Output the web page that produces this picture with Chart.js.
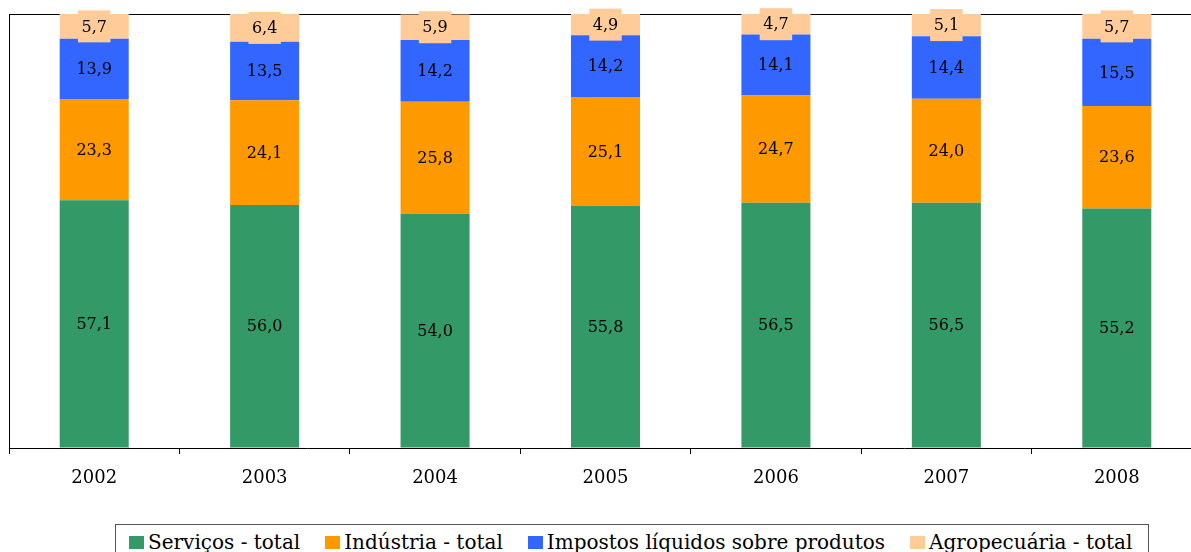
<!DOCTYPE html>
<html>
<head>
<meta charset="utf-8">
<script src="https://cdn.jsdelivr.net/npm/chart.js@4"></script>
<style>
  html, body { margin: 0; padding: 0; background: #fff; }
  #wrap { position: relative; width: 1191px; height: 552px; overflow: hidden; }
  #myChart { position: absolute; left: 0; top: 0; }
  #legend {
    position: absolute; left: 115px; top: 524px; width: 1034px; height: 40px;
    border: 1px solid #555; display: flex; align-items: flex-start;
    padding-left: 13px; box-sizing: border-box; gap: 25px;
    font-family: "DejaVu Serif", serif; font-size: 20px; color: #000;
  }
  .item { display: flex; align-items: center; white-space: nowrap; margin-top: 5px; line-height: 24px; }
  .swatch { width: 15px; height: 13px; margin-right: 4px; }
</style>
</head>
<body>
<div id="wrap">
  <canvas id="myChart" width="1202" height="520"></canvas>
  <div id="legend"></div>
</div>
<script>
const years = ["2002", "2003", "2004", "2005", "2006", "2007", "2008"];
const seriesNames = ["Serviços - total", "Indústria - total", "Impostos líquidos sobre produtos", "Agropecuária - total"];
const servicos = [57.1, 56.0, 54.0, 55.8, 56.5, 56.5, 55.2];
const industria = [23.3, 24.1, 25.8, 25.1, 24.7, 24.0, 23.6];
const impostos = [13.9, 13.5, 14.2, 14.2, 14.1, 14.4, 15.5];
const agro = [5.7, 6.4, 5.9, 4.9, 4.7, 5.1, 5.7];
const colors = ["#339966", "#ff9900", "#3366ff", "#ffcc99"];

const seriesData = [servicos, industria, impostos, agro];

const labelFont = '16px "DejaVu Serif"';

// value labels with a coloured box behind them
const valueLabels = {
  id: "valueLabels",
  afterDatasetsDraw(chart) {
    const ctx = chart.ctx;
    ctx.save();
    ctx.font = labelFont;
    ctx.textAlign = "center";
    ctx.textBaseline = "middle";
    chart.data.datasets.forEach((ds, i) => {
      const meta = chart.getDatasetMeta(i);
      meta.data.forEach((bar, j) => {
        const text = ds.data[j].toFixed(1).replace(".", ",");
        const cy = (bar.y + bar.base) / 2;
        const w = ctx.measureText(text).width + 7;
        const h = 32;
        ctx.fillStyle = ds.backgroundColor;
        ctx.fillRect(bar.x - w / 2, cy - h / 2, w, h);
        ctx.fillStyle = "#000";
        ctx.fillText(text, bar.x, cy + 1);
      });
    });
    ctx.restore();
  }
};

const ctx = document.getElementById("myChart").getContext("2d");
const chart = new Chart(ctx, {
  type: "bar",
  data: {
    labels: years,
    datasets: seriesData.map((d, i) => ({
      label: seriesNames[i],
      data: d,
      backgroundColor: colors[i],
      borderWidth: 0,
      categoryPercentage: 1,
      barPercentage: 0.405
    }))
  },
  options: {
    responsive: false,
    animation: false,
    layout: { padding: { top: 14, left: 0, right: 0, bottom: 0 } },
    plugins: {
      legend: { display: false },
      tooltip: { enabled: false }
    },
    scales: {
      x: {
        stacked: true,
        offset: true,
        afterFit: (scale) => { scale.height = 72; },
        grid: {
          offset: true,
          drawOnChartArea: false,
          drawTicks: true,
          tickLength: 6,
          color: "#000"
        },
        border: { display: true, color: "#000", width: 1 },
        ticks: {
          color: "#000",
          font: { family: "DejaVu Serif", size: 18 },
          padding: 14,
          maxRotation: 0
        }
      },
      y: {
        stacked: true,
        min: 0,
        max: 100,
        afterFit: (scale) => { scale.width = 9; },
        ticks: { display: false, stepSize: 100 },
        grid: {
          drawTicks: false,
          color: (c) => (c.tick && c.tick.value === 100 ? "#000" : "rgba(0,0,0,0)")
        },
        border: { display: true, color: "#000", width: 1 }
      }
    }
  },
  plugins: [valueLabels]
});

// html legend built from the datasets
const legend = document.getElementById("legend");
chart.data.datasets.forEach((ds) => {
  legend.innerHTML += `
    <div class="item"><span class="swatch" style="background:${ds.backgroundColor}"></span>${ds.label}</div>
  `;
});
</script>
</body>
</html>
